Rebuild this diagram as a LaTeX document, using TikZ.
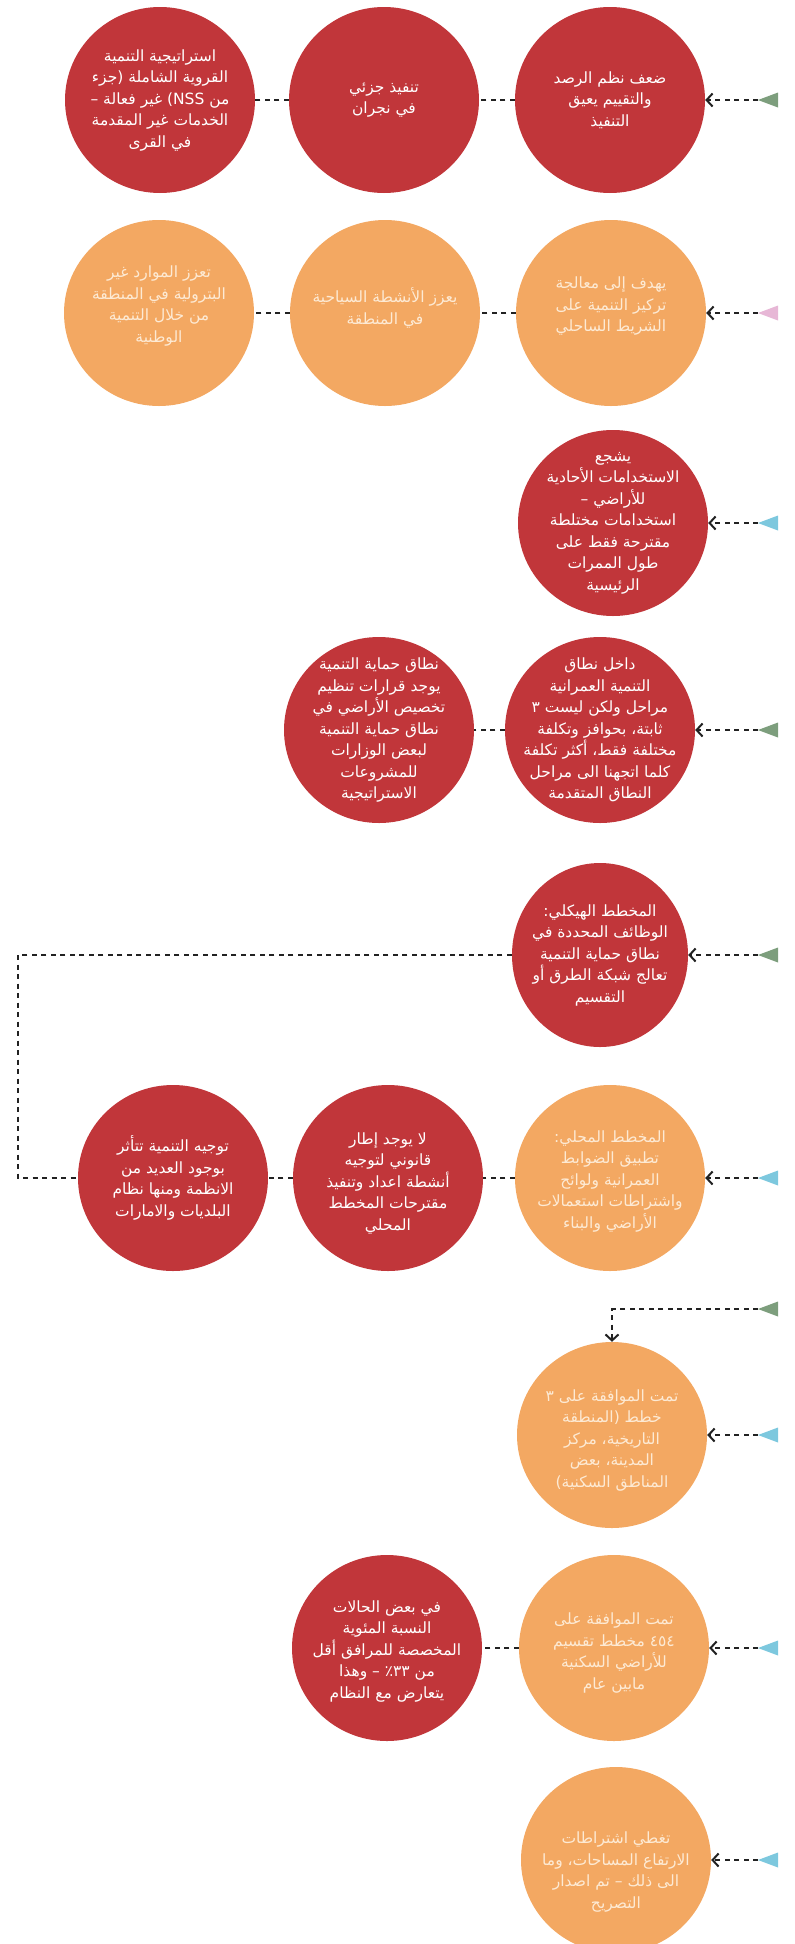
\documentclass[tikz,border=0pt]{standalone}
\usepackage{fontspec}
\usetikzlibrary{arrows.meta,shapes.geometric}
\TeXXeTstate=1
\newfontfamily\arabicfont[Script=Arabic]{DejaVu Sans}
\newcommand\arl[1]{\beginR #1\endR}
\newcommand\tri[3]{\coordinate (#1) at (758,#3); \fill[#2] (#1) -- ++(20,-7.5) -- ++(0,15) -- cycle;}
\definecolor{cred}{RGB}{193,54,58}
\definecolor{corange}{RGB}{243,168,98}
\definecolor{tgreen}{RGB}{125,158,125}
\definecolor{tpink}{RGB}{231,183,214}
\definecolor{tblue}{RGB}{125,200,222}
\definecolor{lineclr}{RGB}{34,34,34}
\definecolor{txtor}{RGB}{253,234,212}
\begin{document}
\begin{tikzpicture}[x=1pt,y=-1pt,
  bub/.style={ellipse, minimum width=190pt, minimum height=186pt, inner sep=0pt},
  redb/.style={bub, fill=cred},
  orb/.style={bub, fill=corange},
  tx/.style={align=center, inner sep=0pt, font=\arabicfont\fontsize{15.5}{21.5}\selectfont},
  txr/.style={tx, text=white},
  txo/.style={tx, text=txtor},
  dl/.style={draw=lineclr, line width=2.2pt, dash pattern=on 5pt off 4.5pt},
  arr/.style={dl, -{Straight Barb[length=6pt,width=13pt,line width=2pt]}}
]
\path[use as bounding box] (0,0) rectangle (795,1944);

% Row 1
\node[redb] (c11) at (160,100) {};
\node[redb] (c12) at (384,100) {};
\node[redb] (c13) at (610,100) {};
\node[txr] (c11t) at (c11) {\arl{استراتيجية التنمية}\\\arl{القروية الشاملة (جزء}\\\arl{من \beginL NSS\endL) غير فعالة –}\\\arl{الخدمات غير المقدمة}\\\arl{في القرى}};
\node[txr] (c12t) at (c12) {\arl{تنفيذ جزئي}\\\arl{في نجران}};
\node[txr] (c13t) at (c13) {\arl{ضعف نظم الرصد}\\\arl{والتقييم يعيق}\\\arl{التنفيذ}};
\tri{t1}{tgreen}{100}
\draw[arr] (t1) -- (c13.east);
\draw[dl] (c13.west) -- (c12.east);
\draw[dl] (c12.west) -- (c11.east);

% Row 2
\node[orb] (c21) at (159,313) {};
\node[orb] (c22) at (385,313) {};
\node[orb] (c23) at (611,313) {};
\node[txo] (c21t) at ([yshift=7pt]c21) {\arl{تعزز الموارد غير}\\\arl{البترولية في المنطقة}\\\arl{من خلال التنمية}\\\arl{الوطنية}};
\node[txo] (c22t) at ([yshift=5pt]c22) {\arl{يعزز الأنشطة السياحية}\\\arl{في المنطقة}};
\node[txo] (c23t) at ([yshift=7pt]c23) {\arl{يهدف إلى معالجة}\\\arl{تركيز التنمية على}\\\arl{الشريط الساحلي}};
\tri{t2}{tpink}{313}
\draw[arr] (t2) -- (c23.east);
\draw[dl] (c23.west) -- (c22.east);
\draw[dl] (c22.west) -- (c21.east);

% Row 3
\node[redb] (c3) at (613,523) {};
\node[txr] (c3t) at (c3) {\arl{يشجع}\\\arl{الاستخدامات الأحادية}\\\arl{للأراضي –}\\\arl{استخدامات مختلطة}\\\arl{مقترحة فقط على}\\\arl{طول الممرات}\\\arl{الرئيسية}};
\tri{t3}{tblue}{523}
\draw[arr] (t3) -- (c3.east);

% Row 4
\node[redb] (c41) at (379,730) {};
\node[redb] (c42) at (600,730) {};
\node[txr] (c41t) at (c41) {\arl{نطاق حماية التنمية}\\\arl{يوجد قرارات تنظيم}\\\arl{تخصيص الأراضي في}\\\arl{نطاق حماية التنمية}\\\arl{لبعض الوزارات}\\\arl{للمشروعات}\\\arl{الاستراتيجية}};
\node[txr] (c42t) at (c42) {\arl{داخل نطاق}\\\arl{التنمية العمرانية}\\\arl{مراحل ولكن ليست ٣}\\\arl{ثابتة، بحوافز وتكلفة}\\\arl{مختلفة فقط، أكثر تكلفة}\\\arl{كلما اتجهنا الى مراحل}\\\arl{النطاق المتقدمة}};
\tri{t4}{tgreen}{730}
\draw[arr] (t4) -- (c42.east);
\draw[dl] (c42.west) -- (c41.east);

% Row 5
\node[redb, minimum width=176pt, minimum height=184pt] (c5) at (600,955) {};
\node[txr] (c5t) at (c5) {\arl{المخطط الهيكلي:}\\\arl{الوظائف المحددة في}\\\arl{نطاق حماية التنمية}\\\arl{تعالج شبكة الطرق أو}\\\arl{التقسيم}};
\tri{t5}{tgreen}{955}
\draw[arr] (t5) -- (c5.east);

% Row 6
\node[redb] (c61) at (173,1178) {};
\node[redb] (c62) at (388,1178) {};
\node[orb] (c63) at (610,1178) {};
\node[txr] (c61t) at (c61) {\arl{توجيه التنمية تتأثر}\\\arl{بوجود العديد من}\\\arl{الانظمة ومنها نظام}\\\arl{البلديات والامارات}};
\node[txr] (c62t) at ([yshift=-5pt]c62) {\arl{لا يوجد إطار}\\\arl{قانوني لتوجيه}\\\arl{أنشطة اعداد وتنفيذ}\\\arl{مقترحات المخطط}\\\arl{المحلي}};
\node[txo] (c63t) at ([yshift=-3pt]c63) {\arl{المخطط المحلي:}\\\arl{تطبيق الضوابط}\\\arl{العمرانية ولوائح}\\\arl{واشتراطات استعمالات}\\\arl{الأراضي والبناء}};
\tri{t6}{tblue}{1178}
\draw[arr] (t6) -- (c63.east);
\draw[dl] (c63.west) -- (c62.east);
\draw[dl] (c62.west) -- (c61.east);
\coordinate (lane) at (18,1178);
\draw[dl] (c5.west) -| (lane) -- (c61.west);

% Row 7
\node[orb] (c7) at (612,1435) {};
\node[txo] (c7t) at ([yshift=-5pt]c7) {\arl{تمت الموافقة على ٣}\\\arl{خطط (المنطقة}\\\arl{التاريخية، مركز}\\\arl{المدينة، بعض}\\\arl{المناطق السكنية)}};
\tri{t7a}{tgreen}{1309}
\tri{t7b}{tblue}{1435}
\draw[arr] (t7a) -| (c7.north);
\draw[arr] (t7b) -- (c7.east);

% Row 8
\node[redb] (c81) at (387,1648) {};
\node[orb] (c82) at (614,1648) {};
\node[txr] (c81t) at ([yshift=-3pt]c81) {\arl{في بعض الحالات}\\\arl{النسبة المئوية}\\\arl{المخصصة للمرافق أقل}\\\arl{من ٣٣٪ – وهذا}\\\arl{يتعارض مع النظام}};
\node[txo] (c82t) at ([yshift=-5pt]c82) {\arl{تمت الموافقة على}\\\arl{٤٥٤ مخطط تقسيم}\\\arl{للأراضي السكنية}\\\arl{مابين عام}};
\tri{t8}{tblue}{1648}
\draw[arr] (t8) -- (c82.east);
\draw[dl] (c82.west) -- (c81.east);

% Row 9
\node[orb] (c9) at (616,1860) {};
\node[txo] (c9t) at ([yshift=-12pt]c9) {\arl{تغطي اشتراطات}\\\arl{الارتفاع المساحات، وما}\\\arl{الى ذلك – تم اصدار}\\\arl{التصريح}};
\tri{t9}{tblue}{1860}
\draw[arr] (t9) -- (c9.east);
\end{tikzpicture}
\end{document}
